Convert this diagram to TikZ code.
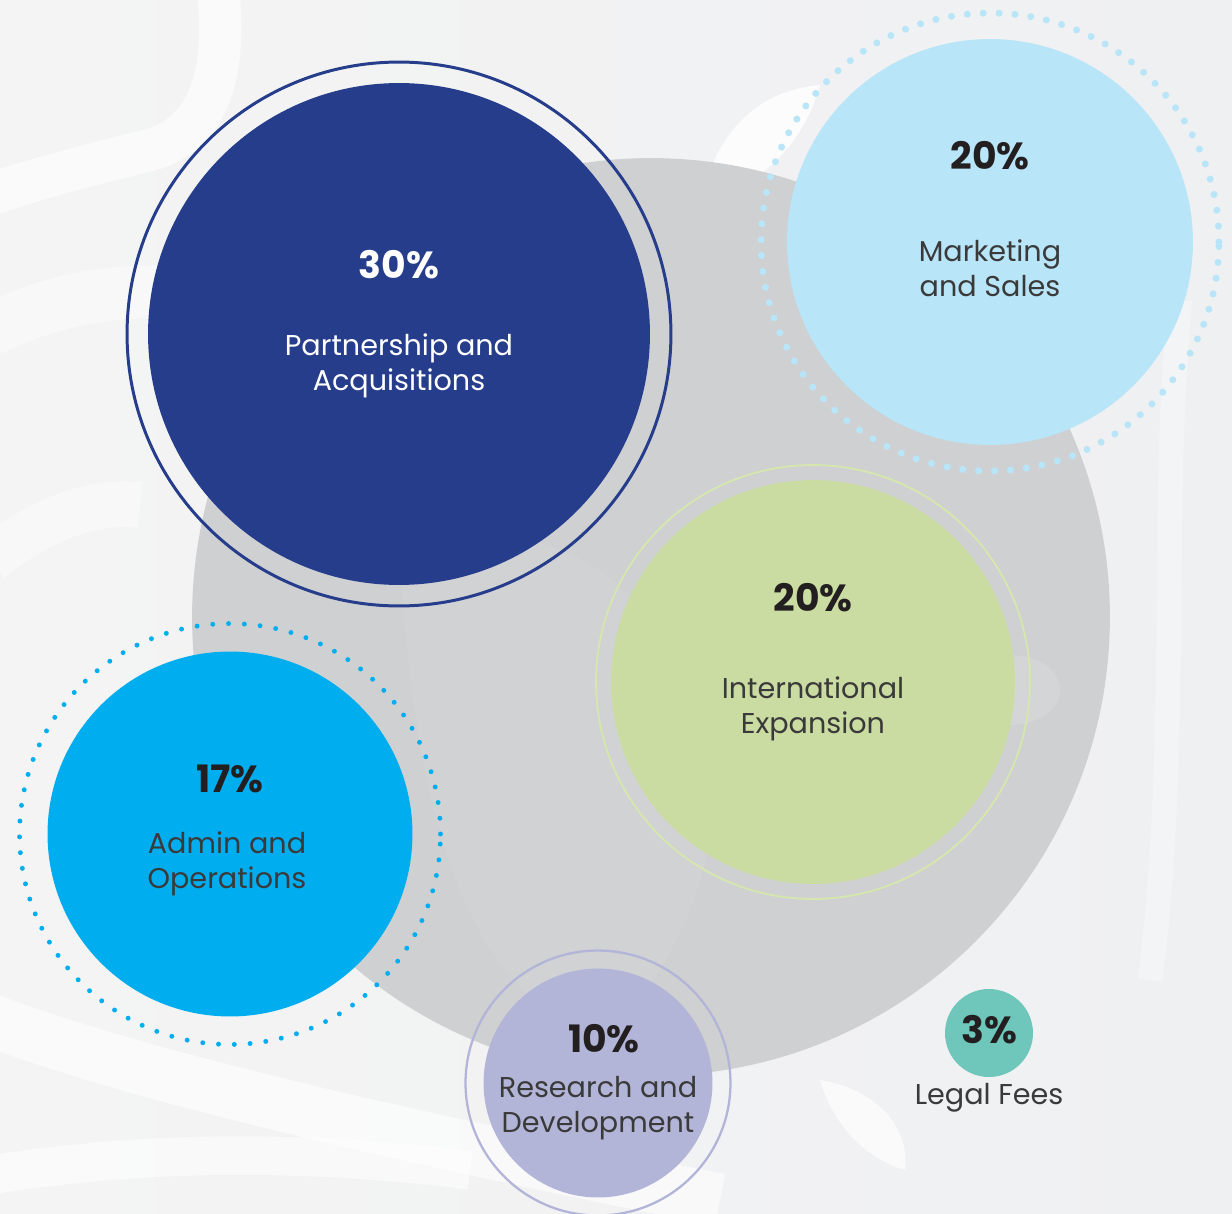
\documentclass[tikz,border=0pt]{standalone}
\usepackage{fontspec}
\setmainfont{Poppins}
\usepackage{xcolor}
\usepackage{tikz}
\usetikzlibrary{positioning}

\definecolor{paperl}{HTML}{F4F4F4}
\definecolor{paperr}{HTML}{EFF0F2}
\definecolor{bigcore}{HTML}{CFD0D2}
\definecolor{partnerblue}{HTML}{253D8B}
\definecolor{marketblue}{HTML}{B8E5F8}
\definecolor{intlgreen}{HTML}{CBDCA2}
\definecolor{intlring}{HTML}{D5E6AE}
\definecolor{admincyan}{HTML}{00AEEF}
\definecolor{researchlav}{HTML}{B3B5D8}
\definecolor{legalteal}{HTML}{6EC7BA}
\definecolor{inkdark}{HTML}{231F20}
\definecolor{inkgray}{HTML}{3A3A3A}

\begin{document}
\begin{tikzpicture}[x=0.02cm,y=-0.02cm]
        \tikzstyle{every node}+=[inner sep=0pt]
        \tikzstyle{bubble}=[circle,draw=none]
        \tikzstyle{ring}=[circle,fill=none]
        \tikzstyle{pct}=[font=\fontsize{21.5}{26}\selectfont\bfseries,text=inkdark]
        \tikzstyle{lbl}=[font=\fontsize{16.3}{19.8}\selectfont,align=center,text=inkgray]
        \useasboundingbox (0,0) rectangle (1232,1214);
        \fill [left color=paperl,right color=paperr] (0,0) rectangle (1232,1214);
        % faint white swirls in the paper
        \begin{scope}
        \clip (0,0) rectangle (1232,1214);
        \draw [white,line width=24pt,opacity=.6] (218,-10) .. controls (228,80) and (205,135) .. (150,150) .. controls (90,165) and (30,180) .. (-10,195);
        \draw [white,line width=30pt,opacity=.45] (-10,330) .. controls (50,300) and (110,290) .. (170,292);
        \draw [white,line width=26pt,opacity=.45] (-10,560) .. controls (40,520) and (90,500) .. (140,505);
        \draw [white,line width=30pt,opacity=.6] (-10,1020) .. controls (150,1080) and (420,1140) .. (720,1200);
        \draw [white,line width=22pt,opacity=.55] (-10,1175) .. controls (150,1150) and (300,1150) .. (470,1170);
        \fill [white,opacity=.8] (700,205) .. controls (715,130) and (760,90) .. (820,85) .. controls (805,140) and (765,185) .. (700,205);
        \fill [white,opacity=.7] (820,1080) .. controls (880,1090) and (910,1130) .. (905,1170) .. controls (870,1160) and (835,1130) .. (820,1080);
        \draw [white,line width=14pt,opacity=.3] (1180,300) .. controls (1160,500) and (1180,750) .. (1150,980);
        \end{scope}
        % big grey disc behind everything
        \node [bubble,fill=bigcore,minimum size=18.36cm] (core) at (651,617) {};
        \fill [white,opacity=.06] (400,560) .. controls (520,500) and (640,560) .. (700,700) .. controls (740,820) and (690,960) .. (600,1040) .. controls (500,1000) and (420,900) .. (400,560);
        \fill [white,opacity=.12] (1010,690) ellipse (50 and 35);
        % partnership and acquisitions
        \node [ring,draw=partnerblue,line width=1.7pt,minimum size=10.88cm] (partner-ring) at (399,334) {};
        \node [bubble,fill=partnerblue,minimum size=10.04cm] (partner) at (399,334) {};
        \node [pct,text=white] (partner-pct) at (399,265) {30\%};
        \node [lbl,text=white] (partner-lbl) at (399,366) {Partnership and\\Acquisitions};
        % marketing and sales
        \node [ring,draw=marketblue,line width=4pt,line cap=round,dash pattern=on 0pt off 9.07pt,minimum size=9.16cm] (market-ring) at (990,242) {};
        \node [bubble,fill=marketblue,minimum size=8.12cm] (market) at (990,242) {};
        \node [pct] (market-pct) at (990,156) {20\%};
        \node [lbl] (market-lbl) at (990,268) {Marketing\\and Sales};
        % international expansion
        \node [ring,draw=intlring,line width=1.1pt,minimum size=8.68cm] (intl-ring) at (813,682) {};
        \node [bubble,fill=intlgreen,minimum size=8.08cm] (intl) at (813,682) {};
        \node [pct] (intl-pct) at (813,598) {20\%};
        \node [lbl] (intl-lbl) at (813,709) {International\\Expansion};
        % admin and operations
        \node [ring,draw=admincyan,line width=2.8pt,line cap=round,dash pattern=on 0pt off 9pt,minimum size=8.42cm] (admin-ring) at (230,834) {};
        \node [bubble,fill=admincyan,minimum size=7.3cm] (admin) at (230,834) {};
        \node [pct] (admin-pct) at (230,779) {17\%};
        \node [lbl] (admin-lbl) at (227,864) {Admin and\\Operations};
        % research and development
        \node [ring,draw=researchlav,line width=1.3pt,minimum size=5.3cm] (research-ring) at (598,1083) {};
        \node [bubble,fill=researchlav,minimum size=4.58cm] (research) at (598,1083) {};
        \node [pct] (research-pct) at (604,1039) {10\%};
        \node [lbl] (research-lbl) at (598,1108) {Research and\\Development};
        % legal fees
        \node [bubble,fill=legalteal,minimum size=1.76cm] (legal) at (989,1033) {};
        \node [pct] (legal-pct) at (989,1030) {3\%};
        \node [lbl,below=0.12cm of legal] (legal-lbl) {Legal Fees};
    \end{tikzpicture}
\end{document}
